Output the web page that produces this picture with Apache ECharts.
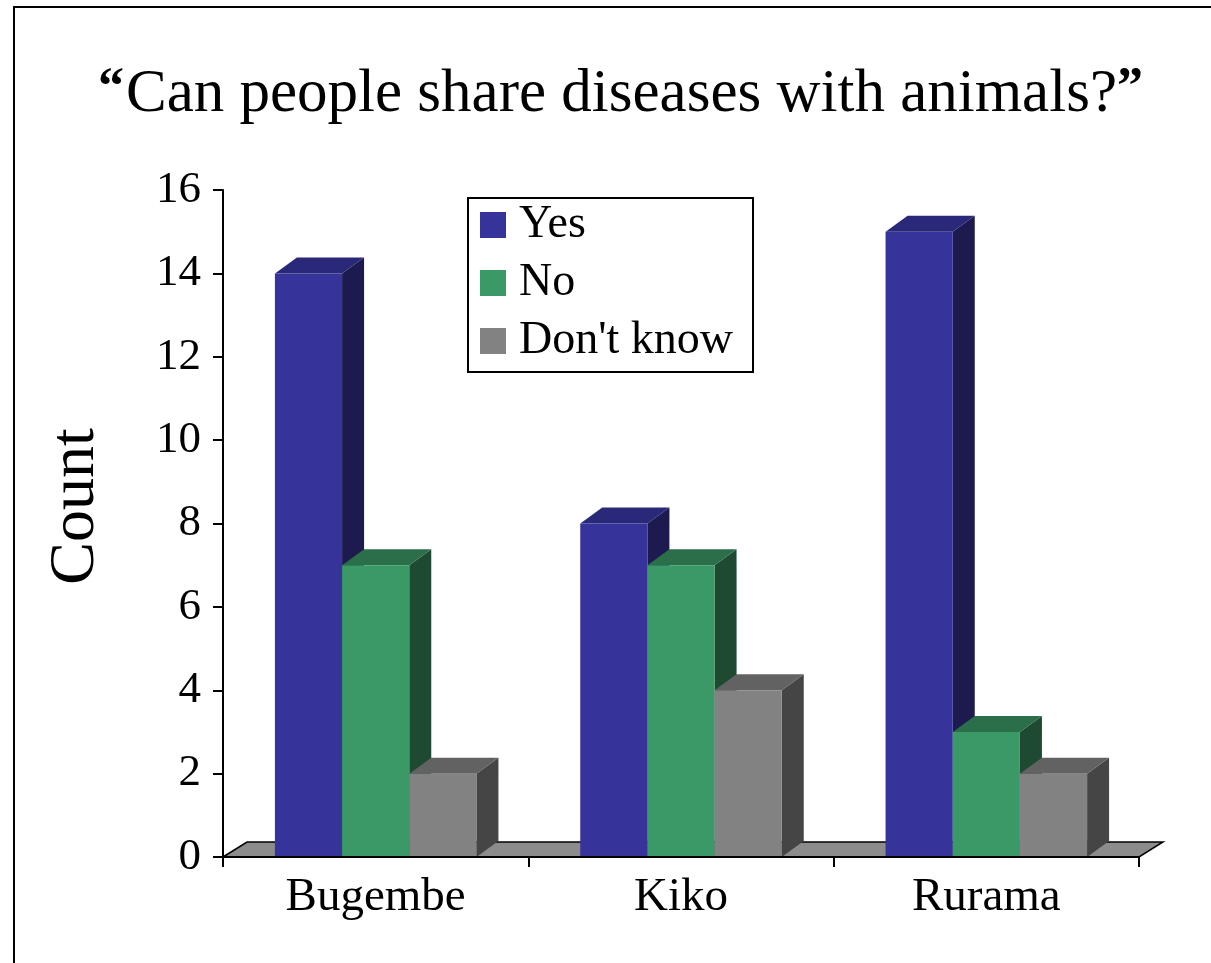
<!DOCTYPE html>
<html>
<head>
<meta charset="utf-8">
<script src="https://cdn.jsdelivr.net/npm/echarts@6/dist/echarts.min.js"></script>
<style>
  html, body { margin: 0; padding: 0; background: #ffffff; }
  #chart { width: 1211px; height: 963px; }
</style>
</head>
<body>
<div id="chart"></div>
<script>
// Survey answers per village
const categories = ['Bugembe', 'Kiko', 'Rurama'];
const seriesNames = ['Yes', 'No', "Don't know"];
const yesCounts = [14, 8, 15];
const noCounts = [7, 7, 3];
const dontKnowCounts = [2, 4, 2];

// Face shades for the extruded bars: front, top, side
const shades = [
  { front: '#36349a', top: '#2a2879', side: '#1c1a4e' },
  { front: '#3a9966', top: '#2b6f4a', side: '#1e4a31' },
  { front: '#828282', top: '#626262', side: '#454545' }
];
const DEPTH_X = 22;
const DEPTH_Y = 16;
const SERIF = '"Liberation Serif", "Times New Roman", serif';

function toItems(values) {
  return values.map((v, i) => [i, v]);
}

function barRenderer(slot, shade) {
  return function (params, api) {
    const cat = api.value(0);
    const val = api.value(1);
    const top = api.coord([cat, val]);
    const base = api.coord([cat, 0]);
    const band = api.size([1, 0])[0];
    const barW = band * 0.22;
    const left = top[0] - 1.5 * barW + slot * barW;
    const right = left + barW;
    const yT = top[1];
    const yB = base[1];
    return {
      type: 'group',
      children: [
        { type: 'polygon',
          shape: { points: [[right, yB], [right + DEPTH_X, yB - DEPTH_Y], [right + DEPTH_X, yT - DEPTH_Y], [right, yT]] },
          style: { fill: shade.side } },
        { type: 'polygon',
          shape: { points: [[left, yT], [left + DEPTH_X, yT - DEPTH_Y], [right + DEPTH_X, yT - DEPTH_Y], [right, yT]] },
          style: { fill: shade.top } },
        { type: 'rect',
          shape: { x: left, y: yT, width: barW, height: yB - yT },
          style: { fill: shade.front } }
      ]
    };
  };
}

// Grey floor under the bars, spanning the whole category axis
function floorRenderer(params, api) {
  const cs = params.coordSys;
  const y0 = cs.y + cs.height;
  const x0 = cs.x;
  const x1 = cs.x + cs.width;
  return {
    type: 'polygon',
    shape: { points: [[x0, y0], [x0 + DEPTH_X + 2, y0 - DEPTH_Y + 1], [x1 + DEPTH_X + 2, y0 - DEPTH_Y + 1], [x1, y0]] },
    style: { fill: '#8c8c8c', stroke: '#000000', lineWidth: 1.5 }
  };
}

const valueSets = [yesCounts, noCounts, dontKnowCounts];

const barSeries = seriesNames.map((name, k) => ({
  name: name,
  type: 'custom',
  renderItem: barRenderer(k, shades[k]),
  data: toItems(valueSets[k]),
  encode: { x: 0, y: 1 },
  itemStyle: { color: shades[k].front },
  clip: false,
  z: 3
}));

const chart = echarts.init(document.getElementById('chart'), null, { renderer: 'canvas' });

chart.setOption({
  backgroundColor: '#ffffff',
  animation: false,
  title: {
    text: '{q|\u201C}Can people share diseases with animals?{q|\u201D}',
    left: 93,
    top: 59,
    textStyle: {
      fontFamily: SERIF,
      fontSize: 61,
      fontWeight: 'normal',
      color: '#000000',
      rich: {
        q: { fontFamily: SERIF, fontSize: 52, fontWeight: 'bold', color: '#000000', verticalAlign: 'top', padding: [0, 2, 10, 0] }
      }
    }
  },
  legend: {
    data: seriesNames,
    orient: 'vertical',
    left: 468,
    top: 198,
    padding: [4, 20, 8, 12],
    itemGap: 12,
    itemWidth: 26,
    itemHeight: 26,
    icon: 'rect',
    borderColor: '#000000',
    borderWidth: 2,
    textStyle: {
      fontFamily: SERIF,
      fontSize: 46,
      lineHeight: 44,
      color: '#000000',
      padding: [0, 0, 0, 8]
    }
  },
  grid: {
    left: 223,
    right: 72,
    top: 190,
    bottom: 106,
    containLabel: false
  },
  xAxis: {
    type: 'category',
    data: categories,
    boundaryGap: true,
    z: 6,
    axisLine: { show: true, lineStyle: { color: '#000000', width: 2 } },
    axisTick: { show: true, alignWithLabel: false, length: 10, lineStyle: { color: '#000000', width: 2 } },
    axisLabel: { fontFamily: SERIF, fontSize: 47, color: '#000000', margin: 17 },
    splitLine: { show: false }
  },
  yAxis: {
    type: 'value',
    min: 0,
    max: 16,
    interval: 2,
    name: 'Count',
    nameLocation: 'middle',
    nameRotate: 90,
    nameGap: 115,
    nameTextStyle: { fontFamily: SERIF, fontSize: 64, color: '#000000', padding: [0, 0, 0, 34] },
    axisLine: { show: true, lineStyle: { color: '#000000', width: 2 } },
    axisTick: { show: true, length: 10, lineStyle: { color: '#000000', width: 2 } },
    axisLabel: { fontFamily: SERIF, fontSize: 45, color: '#000000', margin: 22 },
    splitLine: { show: false }
  },
  graphic: [
    { type: 'polyline', z: 10,
      shape: { points: [[14, 963], [14, 7], [1211, 7]] },
      style: { stroke: '#000000', lineWidth: 2, fill: null } }
  ],
  series: [
    {
      name: 'floor',
      type: 'custom',
      renderItem: floorRenderer,
      data: [[0, 0]],
      encode: { x: 0, y: 1 },
      clip: false,
      silent: true,
      z: 1
    }
  ].concat(barSeries)
});
</script>
</body>
</html>
